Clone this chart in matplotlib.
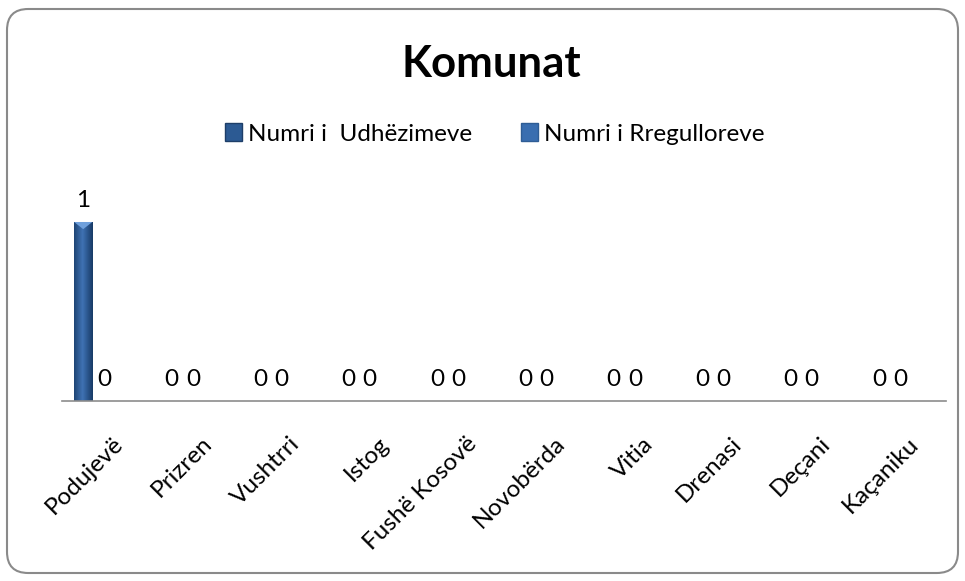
import matplotlib
matplotlib.use("Agg")
import matplotlib.pyplot as plt
from matplotlib.patches import FancyBboxPatch, Patch, Polygon
from matplotlib.colors import LinearSegmentedColormap
import numpy as np

categories = ["Podujevë", "Prizren", "Vushtrri", "Istog", "Fushë Kosovë",
              "Novobërda", "Vitia", "Drenasi", "Deçani", "Kaçaniku"]
udhezimeve = [1, 0, 0, 0, 0, 0, 0, 0, 0, 0]
rregulloreve = [0, 0, 0, 0, 0, 0, 0, 0, 0, 0]
series_names = ["Numri i  Udhëzimeve", "Numri i Rregulloreve"]
title = "Komunat"

plt.rcParams['font.family'] = ['Lato', 'DejaVu Sans']

W, H = 965, 581
fig = plt.figure(figsize=(W / 100, H / 100), dpi=100)
fig.patch.set_facecolor("white")
frame = FancyBboxPatch((7 / W, 8 / H), 951 / W, 564 / H,
                       boxstyle="round,pad=0,rounding_size=0.022",
                       transform=fig.transFigure, facecolor="none", edgecolor="#8a8a8a",
                       linewidth=1.5, mutation_aspect=W / H, zorder=-5)
fig.patches.append(frame)

ax = fig.add_axes([62 / W, 1 - 401 / H, 884 / W, 203 / H])
x = np.arange(len(categories))
w = 0.205
c1 = "#2C5A93"
c2 = "#3A6EB0"
b1 = ax.bar(x - 0.26, udhezimeve, w, color=c1, edgecolor="#1E3E68", linewidth=0.5)
b2 = ax.bar(x - 0.02, rregulloreve, w, color=c2, edgecolor="#2F5D95", linewidth=0.5)

ax.set_xlim(-0.5, len(categories) - 0.5)
ax.set_ylim(0, 1.134)

# subtle gradient + bevel on the visible bars
grad = np.linspace(0, 1, 64)
grad = 1 - np.abs(grad - 0.45) * 1.2
grad = np.tile(grad, (2, 1))
cmap = LinearSegmentedColormap.from_list("bar", ["#173A66", "#3F72B3"])
for bars in (b1, b2):
    for r in bars:
        h = r.get_height()
        if h <= 0:
            continue
        x0, wd = r.get_x(), r.get_width()
        im = ax.imshow(grad, extent=(x0, x0 + wd, 0, h), aspect="auto", cmap=cmap,
                       zorder=r.get_zorder() + 0.1, interpolation="bilinear")
        im.set_clip_path(r)
        tri_h = 0.04
        ax.add_patch(Polygon([(x0, h), (x0 + wd, h), (x0 + wd / 2, h - tri_h)], closed=True,
                             facecolor="#6FA0DC", edgecolor="none", zorder=r.get_zorder() + 0.2))
ax.set_xlim(-0.5, len(categories) - 0.5)
ax.set_ylim(0, 1.134)

for bars, vals in ((b1, udhezimeve), (b2, rregulloreve)):
    for r, v in zip(bars, vals):
        ax.annotate(str(v), (r.get_x() + r.get_width() / 2, v), xytext=(0, 8),
                    textcoords="offset points", ha="center", va="bottom", fontsize=17.5)

ax.set_yticks([])
for s in ("top", "right", "left"):
    ax.spines[s].set_visible(False)
ax.spines["bottom"].set_color("#8c8c8c")
ax.spines["bottom"].set_linewidth(1.2)
ax.set_xticks(x)
ax.set_xticklabels([])
ax.tick_params(axis="x", length=0)
for i, name in enumerate(categories):
    ax.annotate(name, (x[i], 0), xytext=(4.5, -23), textcoords="offset points",
                ha="right", va="top", rotation=45, rotation_mode="anchor", fontsize=17.5,
                annotation_clip=False)
ax.patch.set_alpha(0)

fig.text(491 / W, 1 - 64 / H, title, ha="center", va="center", fontsize=31.5, fontweight="bold")
handles = [Patch(facecolor=c1, edgecolor="#1E3E68"), Patch(facecolor=c2, edgecolor="#2F5D95")]
fig.legend(handles, series_names, loc="center", bbox_to_anchor=(495 / W, 1 - 134 / H), ncol=2,
           frameon=False, fontsize=17.5, handlelength=0.7, handleheight=0.7,
           handletextpad=0.25, columnspacing=2.0, borderpad=0)

fig.savefig("out.png", dpi=100)
